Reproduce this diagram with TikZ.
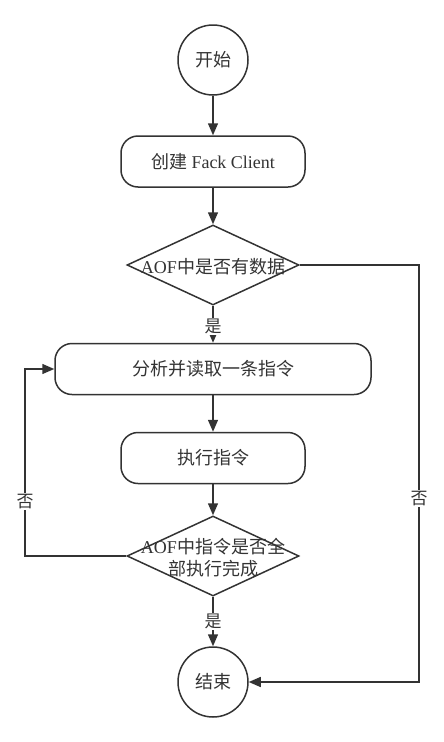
\documentclass[tikz,border=0pt]{standalone}
\usepackage{fontspec}
\setmainfont{Liberation Serif}
\newfontfamily\cjk{Noto Sans CJK SC}
\usetikzlibrary{shapes.geometric,arrows.meta}
\definecolor{ln}{HTML}{333333}
\newcommand{\lowr}[1]{\raisebox{-2pt}{#1}}
\tikzset{
  base/.style={draw=ln, line width=1.5pt, text=ln, font=\fontsize{18}{21}\selectfont},
  term/.style={base, circle, minimum size=70pt, inner sep=0pt},
  proc/.style={base, rectangle, rounded corners=17pt, minimum height=51pt, inner sep=0pt},
  dec/.style={base, diamond, minimum width=172pt, minimum height=80pt, inner sep=0pt},
  dtext/.style={text=ln, font=\fontsize{18}{22}\selectfont, align=center},
  conn/.style={draw=ln, line width=1.5pt, -{Triangle[length=12pt,width=10pt]}},
  lab/.style={fill=white, text=ln, inner sep=1pt, font=\fontsize{17}{19}\selectfont\cjk}
}
\begin{document}
\begin{tikzpicture}[x=1pt,y=-1pt]
\useasboundingbox (0,0) rectangle (444,742);
\node[term] (start) at (213,60) {\lowr{\cjk 开始}};
\node[proc, minimum width=184pt] (create) at (213,161.5) {\lowr{{\cjk 创建} Fack Client}};
\node[dec] (d1) at (213,265) {};
\node[dtext] (d1t) at (213,267) {AOF{\cjk 中是否有数据}};
\node[proc, minimum width=316pt] (parse) at (213,369) {\lowr{\cjk 分析并读取一条指令}};
\node[proc, minimum width=184pt] (exec) at (213,458) {\lowr{\cjk 执行指令}};
\node[dec] (d2) at (213,556) {};
\node[dtext] (d2t) at (213,558) {AOF{\cjk 中指令是否全}\\{\cjk 部执行完成}};
\node[term] (stop) at (213,682) {\lowr{\cjk 结束}};
\coordinate (r1) at (419,265);
\coordinate (r2) at (419,682);
\coordinate (l1) at (25,556);
\coordinate (l2) at (25,369);

\draw[conn] (start) -- (create);
\draw[conn] (create) -- (d1);
\draw[conn] (d1) -- node[lab, pos=0.55] (y1) {是} (parse);
\draw[conn] (parse) -- (exec);
\draw[conn] (exec) -- (d2);
\draw[conn] (d2) -- node[lab, pos=0.5] (y2) {是} (stop);
\draw[conn] (d1.east) -- (r1) -- node[lab, pos=0.56] (n1) {否} (r2) -- (stop.east);
\draw[conn] (d2.west) -- (l1) -- node[lab, pos=0.29] (n2) {否} (l2) -- (parse.west);
\end{tikzpicture}
\end{document}
